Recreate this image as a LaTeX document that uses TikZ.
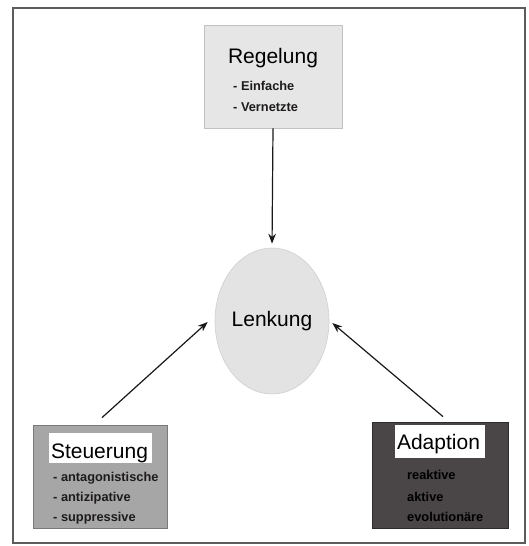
\documentclass[tikz,border=0pt]{standalone}
\usepackage{fontspec}
\setmainfont{Liberation Sans}
\usetikzlibrary{arrows.meta,shapes.geometric}

\definecolor{framegray}{HTML}{5C5C5C}
\definecolor{regfill}{HTML}{E6E6E6}
\definecolor{regedge}{HTML}{C2C2C2}
\definecolor{lenkfill}{HTML}{E3E3E3}
\definecolor{lenkedge}{HTML}{D0D0D0}
\definecolor{steufill}{HTML}{A6A6A6}
\definecolor{steuedge}{HTML}{7A7A7A}
\definecolor{adapfill}{HTML}{4A4547}
\definecolor{adapedge}{HTML}{2E2B2D}
\definecolor{inkdark}{HTML}{1E1B1C}

\begin{document}
\begin{tikzpicture}[x=1pt,y=-1pt,
  panel/.style={rectangle, inner sep=0pt, line width=0.8pt},
  headbox/.style={rectangle, fill=white, inner sep=0pt},
  headtext/.style={inner sep=0pt, anchor=base, font=\fontsize{21}{24}\selectfont, text=black},
  itemtext/.style={inner sep=0pt, anchor=base west, font=\fontsize{12.8}{15}\selectfont\bfseries},
  arr/.style={-{Stealth[length=10pt,width=7.5pt]}, line width=1.2pt, draw=black!90}]

\useasboundingbox (0,0) rectangle (528,546);
\fill[white] (0,0) rectangle (528,546);

% outer frame
\draw[framegray, line width=1.3pt] (13,8) rectangle (525,543);

% top box: Regelung
\node[panel, fill=regfill, draw=regedge, minimum width=138pt, minimum height=103pt] (regel) at (273,76.5) {};
\node[headtext] (regelhead) at (273,63) {Regelung};
\node[itemtext, text=inkdark] (regel1) at (233,90) {- Einfache};
\node[itemtext, text=inkdark] (regel2) at (233,111) {- Vernetzte};

% centre ellipse: Lenkung
\node[ellipse, fill=lenkfill, draw=lenkedge, line width=0.6pt, minimum width=114pt, minimum height=146pt, inner sep=0pt,
      font=\fontsize{21}{24}\selectfont] (lenk) at (272,321) {Lenkung};

% lower left box: Steuerung
\node[panel, fill=steufill, draw=steuedge, minimum width=134pt, minimum height=103pt] (steu) at (100,476.5) {};
\node[headbox, minimum width=103pt, minimum height=30pt] (steulbl) at (100.5,448) {};
\node[headtext] (steuhead) at (99.5,458) {Steuerung};
\node[itemtext, text=inkdark] (steu1) at (53,481) {- antagonistische};
\node[itemtext, text=inkdark] (steu2) at (53,501) {- antizipative};
\node[itemtext, text=inkdark] (steu3) at (53,521) {- suppressive};

% lower right box: Adaption
\node[panel, fill=adapfill, draw=adapedge, minimum width=136pt, minimum height=106pt] (adap) at (440,475) {};
\node[headbox, minimum width=90pt, minimum height=33pt] (adaplbl) at (440,441.5) {};
\node[headtext] (adaphead) at (438.5,449) {Adaption};
\node[itemtext, text=black] (adap1) at (407,479) {reaktive};
\node[itemtext, text=black] (adap2) at (407,501) {aktive};
\node[itemtext, text=black] (adap3) at (407,521) {evolutionäre};

% connectors
\draw[arr, shorten >=4pt] (regel.south) -- (lenk.north);
\draw[arr] ([xshift=2pt,yshift=7pt]steu.north) -- ([xshift=-7pt,yshift=-1pt]lenk.west);
\draw[arr] ([xshift=3pt,yshift=5pt]adap.north) -- ([xshift=3pt,yshift=-2pt]lenk.east);
\end{tikzpicture}
\end{document}
